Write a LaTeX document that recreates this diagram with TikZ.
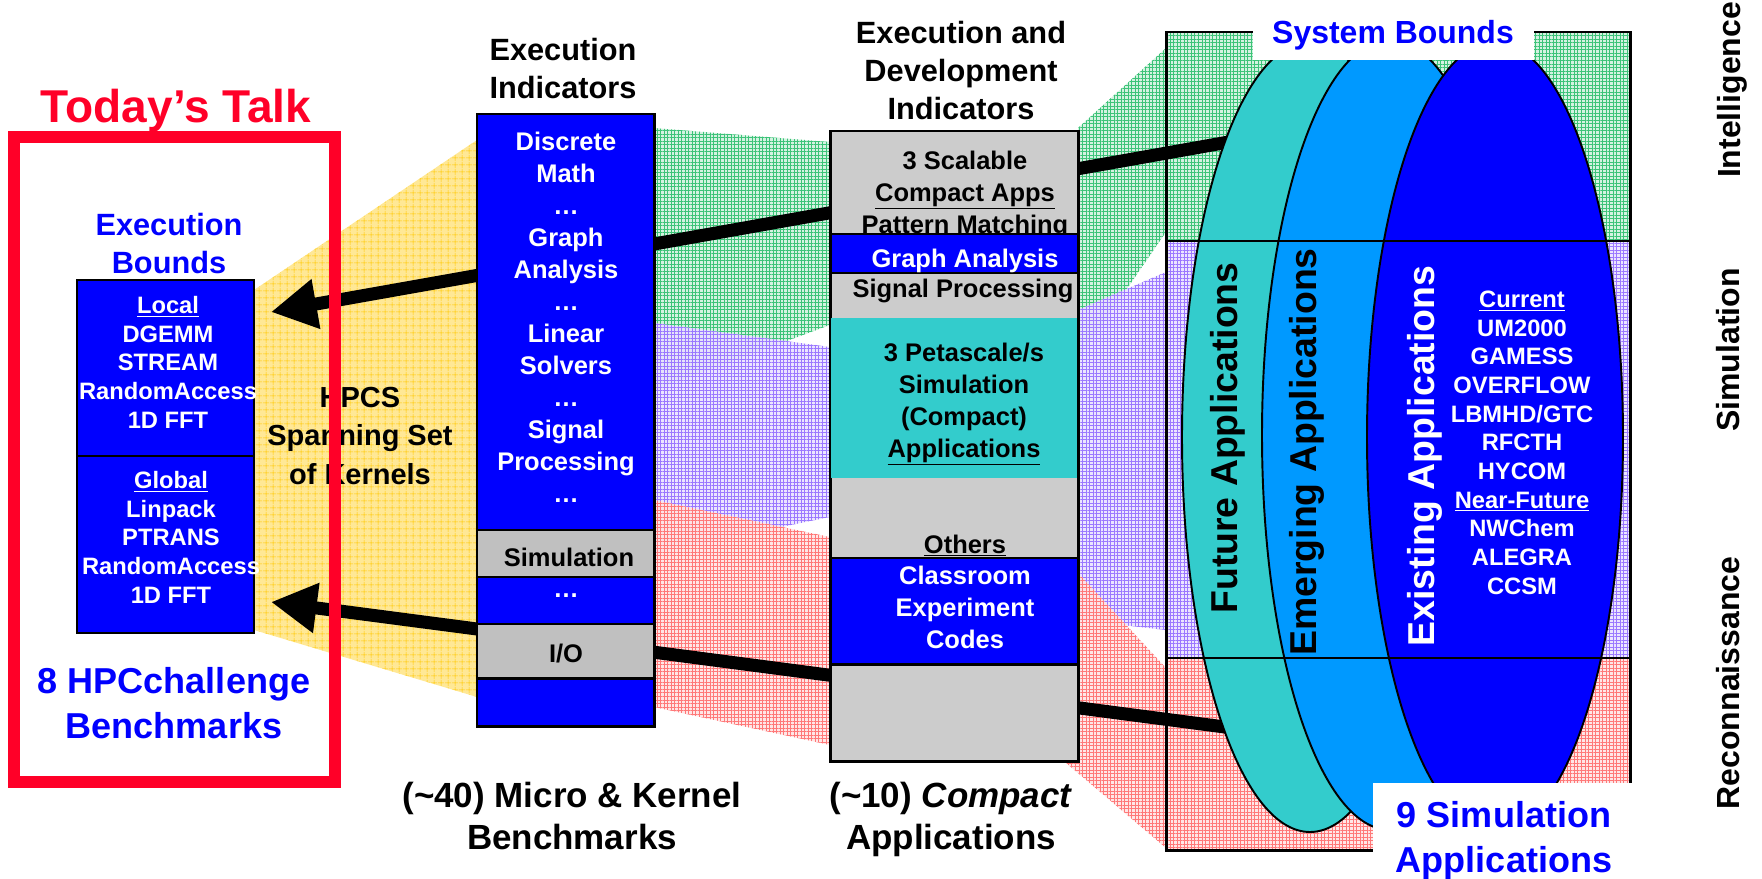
\documentclass[tikz,border=0pt]{standalone}
\usepackage{fontspec}
\setmainfont{Liberation Sans}
\usetikzlibrary{arrows.meta,patterns.meta}

\definecolor{hpcblue}{RGB}{0,0,255}
\definecolor{cellgray}{RGB}{192,192,192}
\definecolor{appgray}{RGB}{204,204,204}
\definecolor{futureteal}{RGB}{51,204,204}
\definecolor{emergesky}{RGB}{0,153,255}
\definecolor{talkred}{RGB}{255,0,40}
\definecolor{fanyellow}{RGB}{255,232,150}
\definecolor{gridyellow}{RGB}{255,200,0}
\definecolor{fangreen}{RGB}{205,240,220}
\definecolor{gridgreen}{RGB}{60,195,120}
\definecolor{fanpurple}{RGB}{232,225,255}
\definecolor{gridpurple}{RGB}{155,120,255}
\definecolor{fanred}{RGB}{255,226,226}
\definecolor{gridred}{RGB}{255,120,120}

\begin{document}
\begin{tikzpicture}[x=0.02cm, y=-0.02cm,
    lbl/.style={inner sep=0pt, align=center, anchor=base},
    talkfont/.style={font=\fontsize{26.2}{30}\selectfont\bfseries},
    headfont/.style={font=\fontsize{17.5}{21.6}\selectfont\bfseries},
    cellfont/.style={font=\fontsize{14.5}{18.2}\selectfont\bfseries},
    listfont/.style={font=\fontsize{13.5}{16.3}\selectfont\bfseries},
    footfont/.style={font=\fontsize{19.9}{23.9}\selectfont\bfseries},
    bluefont/.style={font=\fontsize{20.5}{25.4}\selectfont\bfseries},
    appfont/.style={font=\fontsize{21.3}{25}\selectfont\bfseries},
    sidefont/.style={font=\fontsize{18.2}{21}\selectfont\bfseries},
    box/.style={draw=black, line width=1.7pt},
    fanY/.style={fill=fanyellow, postaction={pattern={Hatch[angle=0, distance=4pt, line width=0.35pt]}, pattern color=gridyellow}},
    fanG/.style={fill=fangreen, fill opacity=0.85, postaction={pattern={Hatch[angle=0, distance=2pt, line width=0.3pt]}, pattern color=gridgreen}},
    fanP/.style={fill=fanpurple, fill opacity=0.85, postaction={pattern={Hatch[angle=0, distance=2pt, line width=0.3pt]}, pattern color=gridpurple}},
    fanR/.style={fill=fanred, fill opacity=0.85, postaction={pattern={Hatch[angle=0, distance=2pt, line width=0.3pt]}, pattern color=gridred}},
    bigarrow/.style={line width=7.4pt, -{Triangle[length=26pt,width=27pt]}}]

    \useasboundingbox (0,0) rectangle (1762,879);

    % fans between the columns
    \path[fanY] (254,290) -- (477,140) -- (477,697) -- (254,630) -- cycle;
    \path[fanG] (654,128) -- (830,142) -- (830,325) -- (654,390) -- cycle;
    \path[fanP] (654,323) -- (830,347) -- (830,517) -- (654,553) -- cycle;
    \path[fanR] (654,500) -- (830,537) -- (830,745) -- (654,707) -- cycle;
    \path[fanG] (1078,128) -- (1166,48) -- (1166,232) -- (1078,360) -- cycle;
    \path[fanP] (1078,310) -- (1166,272) -- (1166,630) -- (1078,620) -- cycle;
    \path[fanR] (1078,573) -- (1166,668) -- (1166,848) -- (1065,762) -- cycle;

    \path[fanG] (1166,32) rectangle (1630,241);
    \path[fanP] (1166,241) rectangle (1630,658);
    \path[fanR] (1166,658) rectangle (1630,850);

    \coordinate (intelend) at (1240,140);
    \coordinate (localin) at (271,312);
    \coordinate (reconend) at (1240,729);
    \coordinate (globalin) at (271,602);
    \draw[bigarrow] (intelend) -- (localin);
    \draw[bigarrow] (reconend) -- (globalin);

    % execution indicators
    \node[lbl, headfont] (eihead) at (563,98) {Execution\\Indicators};
    \draw[box, fill=hpcblue] (477,114) rectangle (654,530);
    \draw[box, fill=cellgray] (477,530) rectangle (654,577);
    \draw[box, fill=hpcblue] (477,577) rectangle (654,624);
    \draw[box, fill=cellgray] (477,624) rectangle (654,678);
    \draw[box, fill=hpcblue] (477,678) rectangle (654,726);
    \node[lbl, cellfont, white] (eitxt) at (566,502)
        {Discrete\\Math\\…\\Graph\\Analysis\\…\\Linear\\Solvers\\…\\Signal\\Processing\\…};
    \node[lbl, cellfont] (simtxt) at (569,566) {Simulation};
    \node[lbl, cellfont, white] (moretxt) at (566,597) {…};
    \node[lbl, cellfont] (iotxt) at (566,662) {I/O};
    \node[lbl, footfont] (mkfoot) at (572,849) {(\textasciitilde 40) Micro \& Kernel\\Benchmarks};

    % compact applications
    \node[lbl, headfont] (cahead) at (961,119) {Execution and\\Development\\Indicators};
    \draw[box, fill=appgray] (830,131) rectangle (1078,761);
    \node[lbl, cellfont] (scalable) at (965,233) {3 Scalable\\\underline{Compact Apps}\\Pattern Matching};
    \draw[box, fill=hpcblue] (830,234) rectangle (1078,273);
    \node[lbl, cellfont, white] (graphan) at (965,267) {Graph Analysis};
    \node[lbl, cellfont] (sigproc) at (963,297) {Signal Processing};
    \fill[futureteal] (831,318) rectangle (1077,478);
    \node[lbl, cellfont] (peta) at (964,457) {3 Petascale/s\\Simulation\\(Compact)\\\underline{Applications}};
    \node[lbl, cellfont] (others) at (965,553) {\underline{Others}};
    \draw[box, fill=hpcblue] (830,558) rectangle (1078,664);
    \node[lbl, cellfont, white] (classroom) at (965,648) {Classroom\\Experiment\\Codes};
    \node[lbl, footfont] (cafoot) at (951,849) {(\textasciitilde 10) \textit{Compact}\\Applications};

    % system bounds
    \draw[line width=1.1pt, fill=futureteal] (1310,437) ellipse [x radius=128, y radius=395];
    \draw[line width=1.1pt, fill=emergesky] (1390,435) ellipse [x radius=128, y radius=395];
    \draw[line width=1.1pt, fill=hpcblue] (1495,437) ellipse [x radius=128, y radius=395];
    \draw[line width=1.1pt] (1166,241) -- (1630,241);
    \draw[line width=1.1pt] (1166,658) -- (1630,658);
    \draw[line width=1.7pt] (1166,32) rectangle (1630,850);

    \node[appfont, rotate=90, inner sep=0pt] (future) at (1228,438) {Future Applications};
    \node[appfont, rotate=90, inner sep=0pt] (emerging) at (1307,452) {Emerging Applications};
    \node[appfont, rotate=90, inner sep=0pt, white] (existing) at (1425,456) {Existing Applications};
    \node[lbl, listfont, white] (current) at (1522,594)
        {\underline{Current}\\UM2000\\GAMESS\\OVERFLOW\\LBMHD/GTC\\RFCTH\\HYCOM\\\underline{Near-Future}\\NWChem\\ALEGRA\\CCSM};

    \fill[white] (1253,8) rectangle (1534,60);
    \node[lbl, sidefont, hpcblue] (sysbounds) at (1393,43) {System Bounds};
    \fill[white] (1373,783) rectangle (1640,879);
    \node[lbl, bluefont, hpcblue] (ninesim) at (1504,872) {9 Simulation\\Applications};

    \node[sidefont, rotate=90, inner sep=0pt] (intel) at (1732,90) {Intelligence};
    \node[sidefont, rotate=90, inner sep=0pt] (simul) at (1728,350) {Simulation};
    \node[sidefont, rotate=90, inner sep=0pt] (recon) at (1728,683) {Reconnaissance};

    % execution bounds
    \node[lbl, talkfont, talkred] (talk) at (176,122) {Today’s Talk};
    \node[lbl, headfont, hpcblue] (bounds) at (169,273) {Execution\\Bounds};
    \draw[box, fill=hpcblue] (77,280) rectangle (254,456);
    \draw[box, fill=hpcblue] (77,456) rectangle (254,633);
    \node[lbl, listfont, white] (localtxt) at (168,428) {\underline{Local}\\DGEMM\\STREAM\\RandomAccess\\1D FFT};
    \node[lbl, listfont, white] (globaltxt) at (171,603) {\underline{Global}\\Linpack\\PTRANS\\RandomAccess\\1D FFT};
    \node[lbl, font=\fontsize{16.5}{21.9}\selectfont\bfseries] (hpcs) at (360,484) {HPCS\\Spanning Set\\of Kernels};
    \node[lbl, bluefont, hpcblue] (hpcc) at (174,738) {8 HPCchallenge\\Benchmarks};
    \draw[talkred, line width=6.8pt] (14,137) rectangle (335,782);

\end{tikzpicture}
\end{document}
